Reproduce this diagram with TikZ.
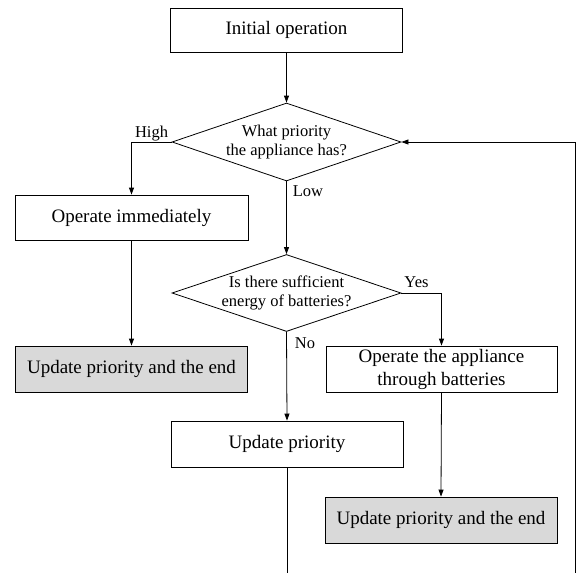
\documentclass[tikz,border=0pt]{standalone}
\usepackage{fontspec}
\setmainfont{Liberation Serif}
\usetikzlibrary{arrows.meta,shapes.geometric}
\begin{document}
\begin{tikzpicture}[x=1pt,y=-1pt,
  line width=0.8pt,
  arr/.style={-{Triangle[length=7pt,width=5pt]}},
  box/.style={draw, rectangle, inner sep=0pt, minimum width=232pt, minimum height=46pt,
     font=\fontsize{19}{23}\selectfont, align=center},
  endbox/.style={box, fill=black!15},
  dia/.style={draw, diamond, inner sep=0pt, minimum width=229pt, minimum height=78pt},
  dtext/.style={font=\fontsize{16.5}{19.5}\selectfont, align=center, inner sep=0pt},
  lab/.style={font=\fontsize{16.5}{19.5}\selectfont, inner sep=0pt, anchor=base}
]
\useasboundingbox[fill=white] (0,0) rectangle (576,573);

\node[box, minimum height=44pt] (init) at (286.5,30) {Initial operation};
\node[dia] (d1) at (286.5,142) {};
\node[dtext] (d1t) at (286.5,142) {What priority\\the appliance has?};
\node[box, minimum width=233pt, minimum height=45pt] (opimm) at (131.5,217.5) {Operate immediately};
\node[dia, minimum height=77pt] (d2) at (286.5,293) {};
\node[dtext] (d2t) at (286.5,293) {Is there sufficient\\energy of batteries?};
\node[endbox] (endL) at (131.5,369) {Update priority and the end};
\node[box, minimum width=231pt] (opbat) at (441.5,369) {Operate the appliance\\through batteries};
\node[box] (upd) at (287,444) {Update priority};
\node[endbox] (endR) at (441,520) {Update priority and the end};

\node[lab] (lhigh) at (151.5,137) {High};
\node[lab] (llow) at (308,196) {Low};
\node[lab] (lyes) at (416.5,287) {Yes};
\node[lab] (lno) at (305,348) {No};

\coordinate (cutL) at (287,573);
\coordinate (cutR) at (575,573);

\draw[arr] (init.south) -- (d1.north);
\draw[arr] (d1.west) -| (opimm.north);
\draw[arr] (d1.south) -- (d2.north);
\draw[arr] (opimm.south) -- (endL.north);
\draw[arr] (d2.east) -| (opbat.north);
\draw[arr] (d2.south) -- (upd.north);
\draw[arr] (opbat.south) -- (endR.north);
\draw (upd.south) -- (cutL);
\draw[arr] (cutR) |- (d1.east);
\end{tikzpicture}
\end{document}
